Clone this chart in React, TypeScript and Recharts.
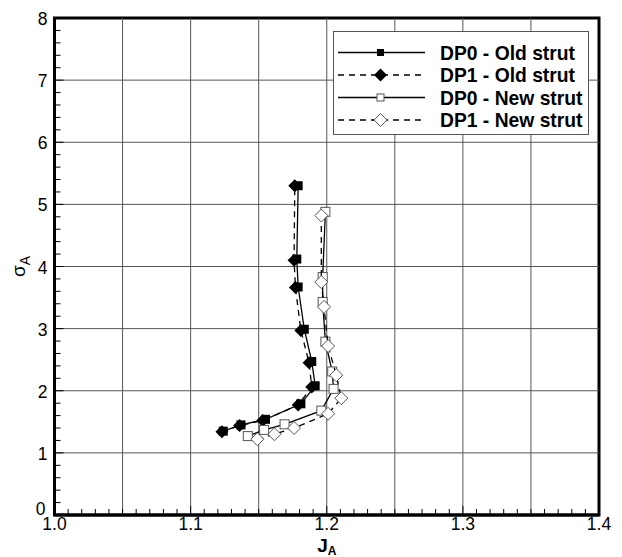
import React from 'react';
import { ScatterChart, Scatter, XAxis, YAxis, ReferenceLine, ReferenceArea, Label } from 'recharts';

// ---- Data ----
const seriesNames = ['DP0 - Old strut', 'DP1 - Old strut', 'DP0 - New strut', 'DP1 - New strut'];

const dp0OldJ = [1.124, 1.137, 1.155, 1.181, 1.1915, 1.189, 1.1835, 1.179, 1.178, 1.179];
const dp0OldS = [1.35, 1.45, 1.54, 1.79, 2.08, 2.47, 2.99, 3.67, 4.12, 5.30];

const dp1OldJ = [1.123, 1.136, 1.153, 1.179, 1.189, 1.187, 1.181, 1.177, 1.176, 1.1765];
const dp1OldS = [1.34, 1.44, 1.52, 1.77, 2.06, 2.45, 2.97, 3.66, 4.10, 5.30];

const dp0NewJ = [1.142, 1.154, 1.169, 1.196, 1.205, 1.204, 1.199, 1.197, 1.197, 1.199];
const dp0NewS = [1.27, 1.37, 1.46, 1.68, 2.03, 2.31, 2.79, 3.43, 3.83, 4.88];

const dp1NewJ = [1.149, 1.1616, 1.176, 1.201, 1.2107, 1.207, 1.201, 1.198, 1.196, 1.196];
const dp1NewS = [1.22, 1.30, 1.40, 1.63, 1.88, 2.25, 2.72, 3.35, 3.75, 4.82];

const xMajorTicks = [1.0, 1.1, 1.2, 1.3, 1.4];
const yMajorTicks = [0, 1, 2, 3, 4, 5, 6, 7, 8];
const xGrid = [1.05, 1.1, 1.15, 1.2, 1.25, 1.3, 1.35];
const yGrid = [1, 2, 3, 4, 5, 6, 7];

const xTicks = Array.from({ length: 41 }, (_, i) => +(1 + i * 0.01).toFixed(2));
const yTicks = Array.from({ length: 41 }, (_, i) => +(i * 0.2).toFixed(1));

const zip = (xs: number[], ys: number[]) => xs.map((x, i) => ({ x, y: ys[i] }));

const FONT = '"Liberation Sans", Arial, sans-serif';

// ---- Marker shapes ----
const FilledSquare = (p: any) => (
  <rect x={p.cx - 4.5} y={p.cy - 4.5} width={9} height={9} fill="#000" />
);
const FilledDiamond = (p: any) => (
  <polygon
    points={`${p.cx},${p.cy - 6.5} ${p.cx + 6.5},${p.cy} ${p.cx},${p.cy + 6.5} ${p.cx - 6.5},${p.cy}`}
    fill="#000"
  />
);
const HollowSquare = (p: any) => (
  <rect x={p.cx - 4.5} y={p.cy - 4.5} width={9} height={9} fill="#fff" stroke="#555" strokeWidth={1} />
);
const HollowDiamond = (p: any) => (
  <polygon
    points={`${p.cx},${p.cy - 6.5} ${p.cx + 6.5},${p.cy} ${p.cx},${p.cy + 6.5} ${p.cx - 6.5},${p.cy}`}
    fill="#fff"
    stroke="#555"
    strokeWidth={1}
  />
);

const isMajor = (v: number, list: number[]) => list.some((m) => Math.abs(m - v) < 1e-6);

const XTick = (props: any) => {
  const { x, y, payload } = props;
  const v = payload.value;
  const major = isMajor(v, xMajorTicks);
  const len = major ? 9 : 6;
  return (
    <g>
      <line x1={x} x2={x} y1={y} y2={y - len} stroke="#000" strokeWidth={1} />
      {major && (
        <text x={x} y={y + 15} textAnchor="middle" fontSize={17.5} fontFamily={FONT} fill="#000">
          {v.toFixed(1)}
        </text>
      )}
    </g>
  );
};

const YTick = (props: any) => {
  const { x, y, payload } = props;
  const v = payload.value;
  const major = isMajor(v, yMajorTicks);
  const len = major ? 9 : 6;
  return (
    <g>
      <line x1={x} x2={x + len} y1={y} y2={y} stroke="#000" strokeWidth={1} />
      {major && (
        <text x={v === 0 ? x - 9 : x - 7} y={v === 0 ? y + 0 : y + 7} textAnchor="end" fontSize={17.5} fontFamily={FONT} fill="#000">
          {String(v)}
        </text>
      )}
    </g>
  );
};

const XTitle = (props: any) => {
  const vb = props.viewBox || {};
  const cx = vb.x + vb.width / 2;
  return (
    <text x={cx} y={vb.y + 37} textAnchor="middle" fontFamily={FONT} fontWeight="bold" fontSize={19} fill="#000">
      J
      <tspan fontSize={12} dy={2.5}>A</tspan>
    </text>
  );
};

const YTitle = (props: any) => {
  const vb = props.viewBox || {};
  const cx = vb.x + 10;
  const cy = vb.y + vb.height / 2;
  return (
    <text
      x={cx}
      y={cy}
      transform={`rotate(-90 ${cx} ${cy})`}
      textAnchor="middle"
      fontFamily={FONT}
      fontSize={19}
      fill="#000"
    >
      σ
      <tspan fontSize={14} dy={5}>A</tspan>
    </text>
  );
};

const legendItems = [
  { name: seriesNames[0], dash: undefined as string | undefined, marker: 'fs' },
  { name: seriesNames[1], dash: '6 5', marker: 'fd' },
  { name: seriesNames[2], dash: undefined, marker: 'hs' },
  { name: seriesNames[3], dash: '6 5', marker: 'hd' },
];

const LegendBox = () => {
  const rows = [21.5, 44, 66.5, 89];
  return (
    <div
      style={{
        position: 'absolute',
        left: 325,
        top: 23,
        width: 256,
        height: 104,
        background: '#fff',
        border: '1px solid #555',
        boxSizing: 'border-box',
      }}
    >
      <svg width={256} height={104} style={{ position: 'absolute', left: -1, top: -1 }}>
        {legendItems.map((it, i) => {
          const y = rows[i];
          const mx = 47.5;
          const shapeProps = { cx: mx, cy: y };
          let m: any = null;
          if (it.marker === 'fs') m = <rect x={mx - 3.5} y={y - 3.5} width={7} height={7} fill="#000" />;
          if (it.marker === 'fd') m = <FilledDiamond {...shapeProps} />;
          if (it.marker === 'hs') m = <rect x={mx - 3.5} y={y - 3.5} width={7} height={7} fill="#fff" stroke="#555" />;
          if (it.marker === 'hd') m = <HollowDiamond {...shapeProps} />;
          return (
            <g key={it.name}>
              <line x1={5} x2={92} y1={y} y2={y} stroke="#000" strokeWidth={1.3} strokeDasharray={it.dash} />
              {m}
              <text x={107} y={y + 7} fontFamily={FONT} fontWeight="bold" fontSize={19.3} fill="#000">
                {it.name}
              </text>
            </g>
          );
        })}
      </svg>
    </div>
  );
};

export default function App() {
  return (
    <div style={{ position: 'relative', width: 606, height: 549 }}>
      <ScatterChart width={606} height={549} margin={{ top: 10, right: 15, left: 6.5, bottom: 0 }}>
        {xGrid.map((v) => (
          <ReferenceLine key={'gx' + v} x={v} stroke="#555" strokeWidth={1} />
        ))}
        {yGrid.map((v) => (
          <ReferenceLine key={'gy' + v} y={v} stroke="#555" strokeWidth={1} />
        ))}
        <XAxis
          type="number"
          dataKey="x"
          domain={[1.0, 1.4]}
          ticks={xTicks}
          interval={0}
          tick={<XTick />}
          tickLine={false}
          tickSize={0}
          tickMargin={0}
          height={42}
          allowDataOverflow
          axisLine={{ stroke: '#000', strokeWidth: 3 }}
        >
          <Label content={<XTitle />} />
        </XAxis>
        <YAxis
          type="number"
          dataKey="y"
          domain={[0, 8]}
          ticks={yTicks}
          interval={0}
          tick={<YTick />}
          tickLine={false}
          tickSize={0}
          tickMargin={0}
          width={40}
          allowDataOverflow
          axisLine={{ stroke: '#000', strokeWidth: 3 }}
        >
          <Label content={<YTitle />} />
        </YAxis>
        <Scatter
          name={seriesNames[0]}
          data={zip(dp0OldJ, dp0OldS)}
          line={{ stroke: '#000', strokeWidth: 1.3 }}
          lineType="joint"
          shape={<FilledSquare />}
          isAnimationActive={false}
        />
        <Scatter
          name={seriesNames[1]}
          data={zip(dp1OldJ, dp1OldS)}
          line={{ stroke: '#000', strokeWidth: 1.3, strokeDasharray: '6 5' }}
          lineType="joint"
          shape={<FilledDiamond />}
          isAnimationActive={false}
        />
        <Scatter
          name={seriesNames[2]}
          data={zip(dp0NewJ, dp0NewS)}
          line={{ stroke: '#000', strokeWidth: 1.3 }}
          lineType="joint"
          shape={<HollowSquare />}
          isAnimationActive={false}
        />
        <Scatter
          name={seriesNames[3]}
          data={zip(dp1NewJ, dp1NewS)}
          line={{ stroke: '#000', strokeWidth: 1.3, strokeDasharray: '6 5' }}
          lineType="joint"
          shape={<HollowDiamond />}
          isAnimationActive={false}
        />
        <ReferenceArea x1={1.0} x2={1.4} y1={0} y2={8} fill="none" fillOpacity={0} stroke="#000" strokeWidth={3} />
      </ScatterChart>
      <LegendBox />
    </div>
  );
}
